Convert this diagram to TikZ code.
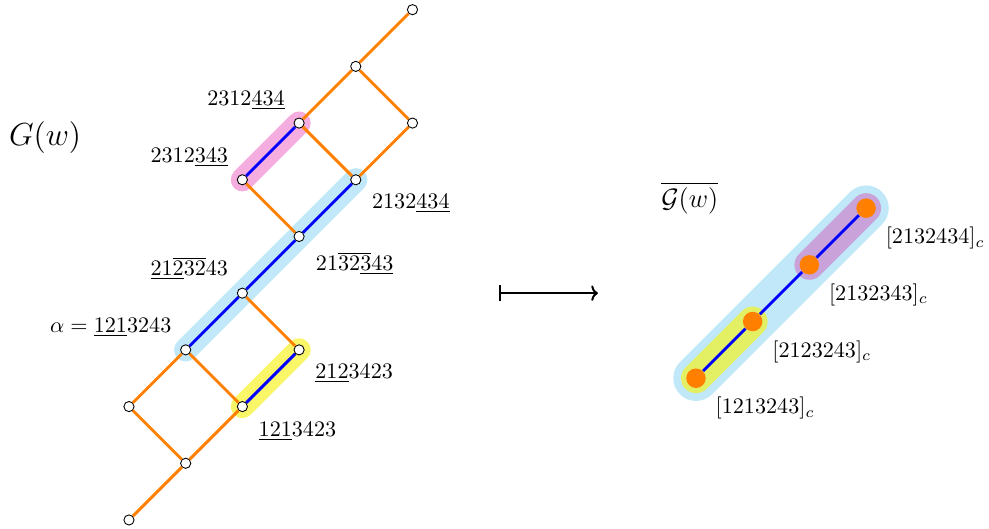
\documentclass[tikz,border=0pt]{standalone}
\usepackage{amsmath,amssymb}
\usepackage{xcolor}
\usepackage{tikz}
\usetikzlibrary{arrows.meta, calc, backgrounds}
\definecolor{edgeOrange}{RGB}{255,128,0}
\definecolor{hlBlue}{RGB}{192,232,248}
\definecolor{hlPink}{RGB}{245,172,222}
\definecolor{hlYellow}{RGB}{250,246,105}
\definecolor{hlYellowGreen}{RGB}{228,240,100}
\definecolor{hlPurple}{RGB}{202,162,218}

\begin{document}
\begin{tikzpicture}[x=0.9cm,y=0.9cm,
  vtx/.style={circle,draw=black,fill=white,inner sep=0pt,
              minimum size=4.6pt,line width=0.4pt},
  cls/.style={circle,fill=edgeOrange,inner sep=0pt,minimum size=8.8pt},
  move/.style={edgeOrange,line width=1.3pt},
  braid/.style={blue,line width=1.3pt},
  glow/.style={line width=10.5pt,line cap=round},
  lbl/.style={inner sep=0pt}]
\useasboundingbox (-2.275,-0.159) rectangle (15.168,9.171);

% ===== LEFT: the graph G(w) =====
\node[vtx] (n) at (0,0) {};
\node[vtx] (m) at (1,1) {};
\node[vtx] (l) at (0,2) {};
\node[vtx] (k) at (2,2) {};
\node[vtx] (i) at (1,3) {};
\node[vtx] (j) at (3,3) {};
\node[vtx] (h) at (2,4) {};
\node[vtx] (g) at (3,5) {};
\node[vtx] (f) at (2,6) {};
\node[vtx] (e) at (4,6) {};
\node[vtx] (d) at (3,7) {};
\node[vtx] (c) at (5,7) {};
\node[vtx] (b) at (4,8) {};
\node[vtx] (a) at (5,9) {};

\begin{scope}[on background layer]
  \draw[glow,hlPink]   (d.center) -- (f.center);
  \draw[glow,hlBlue]   (e.center) -- (i.center);
  \draw[glow,hlYellow] (j.center) -- (k.center);
\end{scope}

\draw[move] (a) -- (b);
\draw[move] (b) -- (c);
\draw[move] (b) -- (d);
\draw[move] (c) -- (e);
\draw[move] (d) -- (e);
\draw[move] (f) -- (g);
\draw[move] (h) -- (j);
\draw[move] (i) -- (k);
\draw[move] (i) -- (l);
\draw[move] (l) -- (m);
\draw[move] (k) -- (m);
\draw[move] (m) -- (n);
\draw[braid] (d) -- (f);
\draw[braid] (e) -- (g);
\draw[braid] (g) -- (h);
\draw[braid] (h) -- (i);
\draw[braid] (j) -- (k);

\node[font=\fontsize{13.7pt}{16pt}\selectfont] (gw) at (-1.48,6.74) {$G(w)$};
\node[lbl,anchor=base east] at ($(d)+(-0.245,0.31)$) {$2312\underline{434}$};
\node[lbl,anchor=base east] at ($(f)+(-0.245,0.31)$) {$2312\underline{343}$};
\node[lbl,anchor=base west] at ($(e)+(0.28,-0.5)$) {$2132\underline{434}$};
\node[lbl,anchor=base east] at ($(h)+(-0.245,0.31)$)
   {$\underline{21\overline{2}}\overline{32}43$};
\node[lbl,anchor=base west] at ($(g)+(0.29,-0.6)$)
   {$21\overline{32\underline{3}}\underline{43}$};
\node[lbl,anchor=base east] at ($(i)+(-0.245,0.31)$) {$\alpha = \underline{121}3243$};
\node[lbl,anchor=base west] at ($(j)+(0.28,-0.51)$) {$\underline{212}3423$};
\node[lbl,anchor=base west] at ($(k)+(0.28,-0.53)$) {$\underline{121}3423$};

% ===== MIDDLE: the map =====
\coordinate (src) at (6.52,4);
\coordinate (tgt) at (8.27,4);
\draw[line width=0.9pt,{Bar[width=7.5pt]}-{To[width=7pt,length=3pt]}] (src) -- (tgt);

% ===== RIGHT: the quotient graph =====
\node[cls] (p1) at (10,2.5) {};
\node[cls] (p2) at (11,3.5) {};
\node[cls] (p3) at (12,4.5) {};
\node[cls] (p4) at (13,5.5) {};

\begin{scope}[on background layer]
  \draw[line width=20.5pt,line cap=round,hlBlue] (p1.center) -- (p4.center);
  \draw[line width=13.5pt,line cap=round,hlYellowGreen] (p1.center) -- (p2.center);
  \draw[line width=13.5pt,line cap=round,hlPurple] (p3.center) -- (p4.center);
\end{scope}

\draw[braid] (p1) -- (p2);
\draw[braid] (p2) -- (p3);
\draw[braid] (p3) -- (p4);

\node[font=\large] (gbar) at (9.89,5.68) {$\overline{\mathcal{G}(w)}$};
\node[lbl,anchor=base west] at ($(p4)+(0.34,-0.63)$) {$[2132434]_c$};
\node[lbl,anchor=base west] at ($(p3)+(0.34,-0.63)$) {$[2132343]_c$};
\node[lbl,anchor=base west] at ($(p2)+(0.34,-0.63)$) {$[2123243]_c$};
\node[lbl,anchor=base west] at ($(p1)+(0.34,-0.63)$) {$[1213243]_c$};
\end{tikzpicture}
\end{document}
